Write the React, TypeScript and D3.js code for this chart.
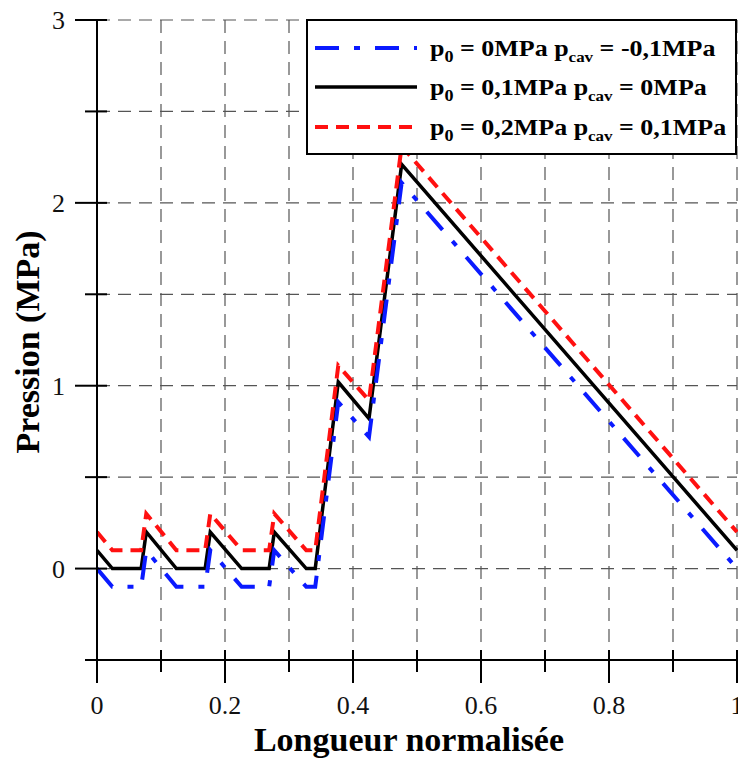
import React from 'react';
import * as d3 from 'd3';

// Data
const xPositions = [0, 0.024, 0.069, 0.077, 0.124, 0.169, 0.177, 0.226, 0.269, 0.277, 0.327, 0.341, 0.377, 0.425, 0.476, 1];
const pressureBlack = [0.1, 0, 0, 0.2, 0, 0, 0.2, 0, 0, 0.2, 0, 0, 1.02, 0.82, 2.21, 0.1];
const pressureRed = [0.2, 0.1, 0.1, 0.3, 0.1, 0.1, 0.3, 0.1, 0.1, 0.3, 0.1, 0.1, 1.11, 0.92, 2.31, 0.2];
const pressureBlue = [0, -0.1, -0.1, 0.1, -0.1, -0.1, 0.1, -0.1, -0.1, 0.1, -0.1, -0.1, 0.91, 0.72, 2.11, 0];

const xTickValues = [0, 0.2, 0.4, 0.6, 0.8, 1];
const xTickLabels = ['0', '0.2', '0.4', '0.6', '0.8', '1'];
const xMinorTicks = [0.1, 0.3, 0.5, 0.7, 0.9];
const yTickValues = [0, 1, 2, 3];
const yTickLabels = ['0', '1', '2', '3'];
const yMinorTicks = [-0.5, 0.5, 1.5, 2.5];
const xGridValues = [0.1, 0.2, 0.3, 0.4, 0.5, 0.6, 0.7, 0.8, 0.9, 1];
const yGridValues = [0, 0.5, 1, 1.5, 2, 2.5, 3];

const legendP0 = ['0MPa', '0,1MPa', '0,2MPa'];
const legendPcav = ['-0,1MPa', '0MPa', '0,1MPa'];

const W = 738;
const H = 760;
const left = 97;
const right = 737;
const top = 20;
const bottom = 660;
const FONT = '"Liberation Serif", "Times New Roman", serif';

export default function App() {
  const x = d3.scaleLinear().domain([0, 1]).range([left, right]);
  const y = d3.scaleLinear().domain([-0.5, 3]).range([bottom, top]);

  const line = d3
    .line<number>()
    .x((_, i) => x(xPositions[i]))
    .y((d) => y(d));

  const series = [
    { values: pressureBlack, color: '#000000', width: 3.5, dash: undefined as string | undefined },
    { values: pressureBlue, color: '#0a1aff', width: 4, dash: '24,15,6,15' },
    { values: pressureRed, color: '#ff1010', width: 4, dash: '13,8' },
  ];

  const legendStyles = [series[1], series[0], series[2]];
  const lgX = 307, lgY = 20, lgW = 429, lgH = 134;
  const rowY = [48, 87, 127];

  return (
    <svg width={W} height={H} style={{ position: 'absolute', left: 0, top: 0, background: '#fff' }}>
      <rect x={0} y={0} width={W} height={H} fill="#fff" />
      <defs>
        <clipPath id="plotclip">
          <rect x={left} y={0} width={right - left + 1} height={bottom} />
        </clipPath>
      </defs>
      {/* grid */}
      <g stroke="#555" strokeWidth={1.2} strokeDasharray="13,8" fill="none">
        {xGridValues.map((v) => (
          <line key={'gx' + v} x1={x(v)} x2={x(v)} y1={y(3)} y2={bottom} />
        ))}
        {yGridValues.map((v) => (
          <line key={'gy' + v} x1={left} x2={right} y1={y(v)} y2={y(v)} />
        ))}
      </g>
      {/* curves */}
      <g clipPath="url(#plotclip)">
        {series.map((s, i) => (
          <path
            key={i}
            d={line(s.values) || ''}
            fill="none"
            stroke={s.color}
            strokeWidth={s.width}
            strokeDasharray={s.dash}
            strokeLinejoin="miter"
          />
        ))}
      </g>
      {/* axes */}
      <g stroke="#000" strokeWidth={2}>
        <line x1={left} x2={left} y1={top} y2={bottom} />
        <line x1={left} x2={right + 2} y1={bottom} y2={bottom} />
        {xTickValues.map((v) => (
          <line key={'xt' + v} x1={x(v)} x2={x(v)} y1={bottom - 10} y2={bottom + 23} />
        ))}
        {xMinorTicks.map((v) => (
          <line key={'xm' + v} x1={x(v)} x2={x(v)} y1={bottom - 10} y2={bottom + 12} />
        ))}
        {yTickValues.map((v) => (
          <line key={'yt' + v} x1={left - 22} x2={left + 10} y1={y(v)} y2={y(v)} />
        ))}
        {yMinorTicks.map((v) => (
          <line key={'ym' + v} x1={left - 12} x2={left + 10} y1={y(v)} y2={y(v)} />
        ))}
      </g>
      {/* tick labels */}
      <g fontFamily={FONT} fontSize={26} fill="#111">
        {xTickValues.map((v, i) => (
          <text key={'xl' + v} x={x(v)} y={714} textAnchor="middle">
            {xTickLabels[i]}
          </text>
        ))}
        {yTickValues.map((v, i) => (
          <text key={'yl' + v} x={65} y={y(v) + 9} textAnchor="end">
            {yTickLabels[i]}
          </text>
        ))}
      </g>
      {/* axis titles */}
      <text x={409} y={751} textAnchor="middle" fontFamily={FONT} fontWeight="bold" fontSize={34} fill="#000">
        Longueur normalisée
      </text>
      <text
        transform={`translate(39,342) rotate(-90)`}
        textAnchor="middle"
        fontFamily={FONT}
        fontWeight="bold"
        fontSize={34}
        fill="#000"
      >
        Pression (MPa)
      </text>
      {/* legend */}
      <rect x={lgX} y={lgY} width={lgW} height={lgH} fill="#fff" stroke="#000" strokeWidth={2} />
      {legendStyles.map((s, i) => (
        <g key={'lg' + i}>
          <line
            x1={315}
            x2={417}
            y1={rowY[i]}
            y2={rowY[i]}
            stroke={s.color}
            strokeWidth={s.width}
            strokeDasharray={s.dash}
          />
          <text
            transform={`translate(430,${rowY[i] + 8}) scale(1.13,1)`}
            fontFamily={FONT}
            fontWeight="bold"
            fontSize={23}
            fill="#000"
          >
            <tspan>p</tspan>
            <tspan fontSize={16} dy={6}>0</tspan>
            <tspan dy={-6}>{' = ' + legendP0[i] + ' p'}</tspan>
            <tspan fontSize={15} dy={6}>cav</tspan>
            <tspan dy={-6}>{' = ' + legendPcav[i]}</tspan>
          </text>
        </g>
      ))}
    </svg>
  );
}
